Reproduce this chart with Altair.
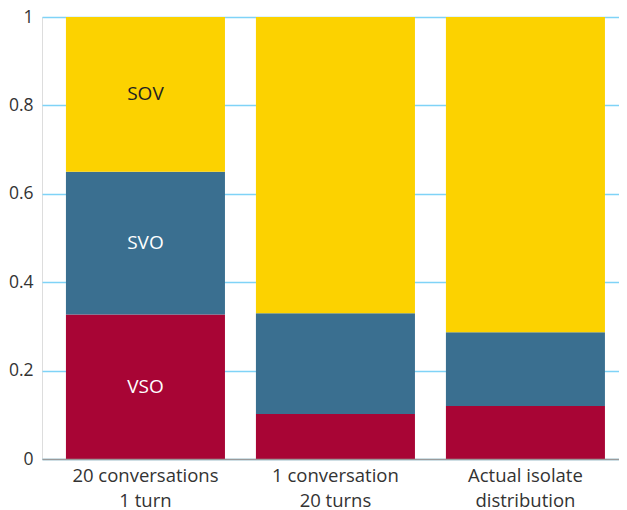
import altair as alt
import pandas as pd

conditions = ["20 conversations|1 turn", "1 conversation|20 turns", "Actual isolate|distribution"]
orders = ["VSO", "SVO", "SOV"]
vso = [0.327, 0.102, 0.120]
svo = [0.323, 0.228, 0.167]
sov = [0.350, 0.670, 0.713]
colors = ["#A80535", "#3A6F90", "#FCD200"]
label_colors = ["#FFFFFF", "#FFFFFF", "#222222"]

rows = []
for i, c in enumerate(conditions):
    for j, (o, vals) in enumerate(zip(orders, [vso, svo, sov])):
        rows.append({"cond": c, "order": o, "ord": j, "value": vals[i], "ci": i})
df = pd.DataFrame(rows)

FONT = "Open Sans"

base = alt.Chart(df).transform_stack(
    stack="value", groupby=["cond"], as_=["y0", "y1"], sort=[alt.SortField("ord")]
).transform_calculate(mid="(datum.y0 + datum.y1) / 2")

xscale = alt.Scale(paddingInner=0.163, paddingOuter=0.1, align=0.63)
yscale = alt.Scale(domain=[0, 1], nice=False)

bars = base.mark_bar(strokeWidth=0).encode(
    x=alt.X(
        "cond:N",
        sort=conditions,
        title=None,
        scale=xscale,
        axis=alt.Axis(
            labelExpr="split(datum.label, '|')",
            labelAngle=0,
            labelFontSize=18.5,
            labelFont=FONT,
            labelColor="#333333",
            labelLineHeight=25,
            labelPadding=7,
            labelBaseline="top",
            ticks=False,
            domainColor="#9a9a9a",
            domainWidth=1.5,
            grid=False,
            zindex=1,
        ),
    ),
    y=alt.Y(
        "y0:Q",
        title=None,
        scale=yscale,
        axis=alt.Axis(
            values=[0, 0.2, 0.4, 0.6, 0.8, 1],
            format="~g",
            ticks=False,
            domain=False,
            gridColor="#7FD3F7",
            gridWidth=1.5,
            labelFontSize=17.5,
            labelFont=FONT,
            labelColor="#333333",
            labelPadding=9,
        ),
    ),
    y2="y1:Q",
    color=alt.Color("order:N", scale=alt.Scale(domain=orders, range=colors), legend=None),
)

texts = base.transform_filter(alt.datum.ci == 0).mark_text(
    font=FONT, fontSize=19, baseline="middle", align="center"
).encode(
    x=alt.X("cond:N", sort=conditions, title=None),
    y=alt.Y("mid:Q", title=None),
    text="order:N",
    color=alt.Color("order:N", scale=alt.Scale(domain=orders, range=label_colors), legend=None),
)

chart = alt.layer(bars, texts).resolve_scale(color="independent").properties(
    width=577,
    height=442,
    padding={"left": 34, "top": 9, "right": 0, "bottom": 51},
    autosize=alt.AutoSizeParams(type="none"),
).configure_view(strokeWidth=0, stroke="transparent").configure(background="white")

chart.save("out.html", embed_options={"renderer": "svg", "actions": False})
